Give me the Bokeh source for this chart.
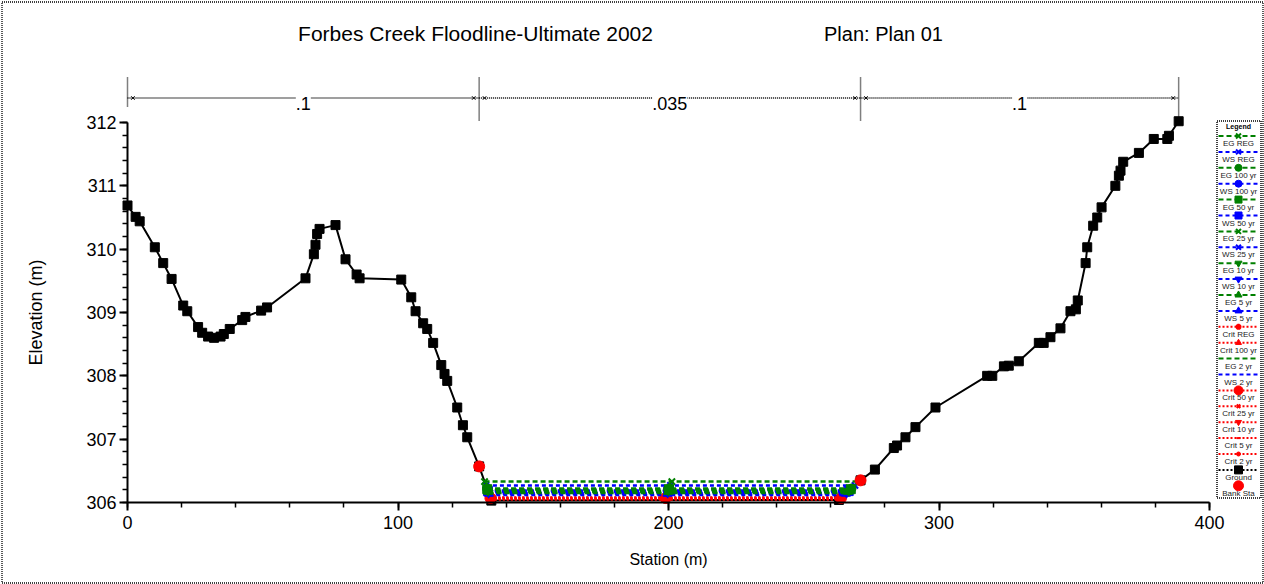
import numpy as np
from bokeh.plotting import figure
from bokeh.models import Range1d, SingleIntervalTicker, Label
from bokeh.core.properties import value
from bokeh.embed import file_html
from bokeh.resources import INLINE

# ---- cross-section data -------------------------------------------------
ground_station = [0.0, 3.0, 4.5, 10.1, 13.2, 16.3, 20.6, 22.1, 26.1, 27.6,
                  29.8, 32.0, 34.4, 35.6, 37.8, 42.4, 43.6, 49.4, 51.6, 65.8,
                  68.9, 69.5, 70.1, 71.0, 76.9, 80.6, 84.7, 85.8, 101.2, 104.9,
                  106.5, 109.3, 110.8, 113.0, 116.0, 117.2, 118.2, 121.9, 124.0, 125.6,
                  130.0, 134.5, 263.0, 271.0, 276.3, 283.3, 284.5, 287.6, 291.3, 298.7,
                  317.8, 319.7, 324.0, 325.8, 329.5, 336.9, 338.7, 341.2, 344.9, 348.6,
                  350.6, 351.3, 354.2, 354.8, 357.0, 358.5, 360.1, 365.2, 366.5, 367.1,
                  368.1, 373.9, 379.4, 384.4, 385.0, 388.6]
ground_elev = [310.69, 310.51, 310.44, 310.03, 309.78, 309.53, 309.11, 309.02, 308.77, 308.68,
               308.62, 308.60, 308.62, 308.66, 308.74, 308.88, 308.93, 309.03, 309.08, 309.54,
               309.92, 310.07, 310.24, 310.32, 310.38, 309.84, 309.60, 309.54, 309.52, 309.24,
               309.02, 308.83, 308.74, 308.52, 308.17, 308.03, 307.92, 307.50, 307.22, 307.03,
               306.57, 306.03, 306.04, 306.35, 306.52, 306.86, 306.90, 307.03, 307.19, 307.50,
               308.00, 308.00, 308.15, 308.16, 308.23, 308.52, 308.52, 308.61, 308.75, 309.02,
               309.05, 309.19, 309.78, 310.03, 310.37, 310.50, 310.66, 311.00, 311.16, 311.24,
               311.38, 311.52, 311.74, 311.74, 311.79, 312.02]
bank_station = [130.0, 271.0]

profiles = ["REG", "100 yr", "50 yr", "25 yr", "10 yr", "5 yr", "2 yr"]
eg_elev = [306.33, 306.22, 306.21, 306.20, 306.18, 306.17, 306.15]
ws_elev = [306.27, 306.19, 306.18, 306.17, 306.15, 306.14, 306.12]
crit_elev = [306.08, 306.07, 306.07, 306.06, 306.06, 306.05, 306.05]

n_breaks = [0.0, 130.0, 271.0, 388.6]
n_labels = [".1", ".035", ".1"]

title_left = "Forbes Creek Floodline-Ultimate 2002"
title_right = "Plan: Plan 01"

# ---- page geometry ------------------------------------------------------
W, H = 1264, 584
PX0, PY0 = 127, 502                      # pixel position of station 0 / elevation 306
XS = (1209 - 127) / 400.0                # px per metre of station
YS = (502 - 122) / 6.0                   # px per metre of elevation
Y0 = 306.0


def cx(px):
    return (px - PX0) / XS


def cy(py):
    return Y0 + (PY0 - py) / YS


FONT = "Liberation Sans"
GREEN, BLUE, RED = "#008000", "#0000ff", "#ff0000"
EG_DASH, WS_DASH, CRIT_DASH = "5 3", "4 3", "2 2"

# the plot area spans the whole page; axes sit at fixed data positions
p = figure(width=W, height=H, title=None,
           x_range=Range1d(cx(0), cx(W)), y_range=Range1d(cy(H), cy(0)),
           output_backend="svg", toolbar_location=None,
           min_border_left=0, min_border_right=0, min_border_top=0, min_border_bottom=0)
p.outline_line_color = None
p.grid.visible = False

for ax, ticker, bounds in ((p.xaxis, SingleIntervalTicker(interval=100, num_minor_ticks=5), (0, 400)),
                           (p.yaxis, SingleIntervalTicker(interval=1, num_minor_ticks=5), (306, 312))):
    ax.ticker = ticker
    ax.bounds = bounds
    ax.axis_line_width = 2
    ax.axis_line_color = "black"
    ax.major_tick_line_color = "black"
    ax.minor_tick_line_color = "black"
    ax.major_tick_line_width = 2
    ax.minor_tick_line_width = 1.5
    ax.major_tick_in = 0
    ax.major_tick_out = 8
    ax.minor_tick_in = 0
    ax.minor_tick_out = 5
    ax.major_label_text_font = FONT
    ax.major_label_text_font_size = "18px"
    ax.major_label_text_color = "black"
    ax.axis_label_text_font = FONT
    ax.axis_label_text_font_style = "normal"
    ax.axis_label_text_color = "black"

p.xaxis.fixed_location = 306
p.yaxis.fixed_location = 0
p.xaxis.axis_label = "Station (m)"
p.xaxis.axis_label_text_font_size = "16px"
p.xaxis.major_label_standoff = 5
p.xaxis.axis_label_standoff = 19
p.yaxis.axis_label = "Elevation (m)"
p.yaxis.axis_label_text_font_size = "18px"
p.yaxis.major_label_standoff = 3
p.yaxis.axis_label_standoff = 37

# ---- ground --------------------------------------------------------------
p.line(ground_station, ground_elev, line_color="black", line_width=2)
p.scatter(ground_station, ground_elev, marker="square", size=9,
          fill_color="black", line_color="black")

gx = np.array(ground_station)
gz = np.array(ground_elev)


def wet_edges(level):
    lo = int(np.argmin(gz))
    i = lo
    while gz[i - 1] <= level:
        i -= 1
    xl = np.interp(level, [gz[i], gz[i - 1]], [gx[i], gx[i - 1]])
    j = lo
    while gz[j + 1] <= level:
        j += 1
    xr = np.interp(level, [gz[j], gz[j + 1]], [gx[j], gx[j + 1]])
    return xl, xr


def draw_marker(xs, ys, marker, color, size):
    if marker is None:
        return
    hollow = marker in ("x", "asterisk", "dash")
    p.scatter(xs, ys, marker=marker, size=size, line_color=color,
              fill_color=None if hollow else color, line_width=2 if hollow else 1)


eg_markers = ["x", "circle", "square", "x", "inverted_triangle", "triangle", None]
crit_markers = ["asterisk", "triangle", "circle", "x", "inverted_triangle", "dash", "circle"]
crit_sizes = [8, 8, 11, 7, 8, 6, 5]

# critical depth, water surface and energy grade lines across the channel
for levels, color, dash, markers, sizes in (
        (crit_elev, RED, CRIT_DASH, crit_markers, crit_sizes),
        (ws_elev, BLUE, WS_DASH, eg_markers, [9] * 7),
        (eg_elev, GREEN, EG_DASH, eg_markers, [9] * 7)):
    for k in range(len(profiles) - 1, -1, -1):
        level = levels[k]
        xl, xr = wet_edges(level)
        p.line([xl, xr], [level, level], line_color=color, line_dash=dash, line_width=2.5)
        xm = 0.5 * (xl + xr)
        draw_marker([xl, xm, xr], [level] * 3, markers[k], color, sizes[k])

# bank stations
bank_elev = np.interp(bank_station, ground_station, ground_elev)
p.scatter(bank_station, bank_elev, marker="circle", size=11, fill_color=RED, line_color=RED)

# ---- Manning's n strip ---------------------------------------------------
NY = cy(97.5)
for b in n_breaks:
    p.line([b, b], [cy(77), cy(106 if b == n_breaks[0] else 120)],
           line_color="black", line_dash="1 1", line_width=1.5)
for k, lab in enumerate(n_labels):
    a, b = n_breaks[k], n_breaks[k + 1]
    p.line([a, b], [NY, NY], line_color="black", line_dash="1 1", line_width=1.3)
    p.scatter([a + 2.0, b - 2.0], [NY, NY], marker="x", size=5, line_color="black")
    p.add_layout(Label(x=0.5 * (a + b), y=NY, text=lab, text_align="center",
                       text_baseline="middle", text_font=FONT, text_font_size="18px",
                       text_color="black", background_fill_color="white",
                       y_offset=-5))

# ---- title ---------------------------------------------------------------
p.text([cx(475)], [cy(33)], text=[title_left], text_font=value(FONT),
       text_font_size="21px", text_baseline="middle", text_align="center", text_color="black")
p.text([cx(883)], [cy(33)], text=[title_right], text_font=value(FONT),
       text_font_size="20px", text_baseline="middle", text_align="center", text_color="black")

# ---- legend --------------------------------------------------------------
legend_items = []
for k in range(6):
    legend_items.append(("EG " + profiles[k], GREEN, EG_DASH, eg_markers[k], 7))
    legend_items.append(("WS " + profiles[k], BLUE, WS_DASH, eg_markers[k], 7))
legend_items.append(("Crit " + profiles[0], RED, CRIT_DASH, crit_markers[0], 6))
legend_items.append(("Crit " + profiles[1], RED, CRIT_DASH, crit_markers[1], 6))
legend_items.append(("EG " + profiles[6], GREEN, EG_DASH, None, 7))
legend_items.append(("WS " + profiles[6], BLUE, WS_DASH, None, 7))
for k in range(2, 7):
    legend_items.append(("Crit " + profiles[k], RED, CRIT_DASH, crit_markers[k], max(crit_sizes[k] - 2, 4)))
legend_items.append(("Ground", "black", "2 2", "square", 8))
legend_items.append(("Bank Sta", RED, None, "circle", 10))

p.quad(left=[cx(1216.5)], right=[cx(1260.5)], top=[cy(120.5)], bottom=[cy(497.5)],
       fill_color=None, line_color="black", line_dash="1 1", line_width=1.5)
p.text([cx(1238)], [cy(126)], text=["Legend"], text_font=value(FONT), text_font_size="7px",
       text_font_style="bold", text_align="center", text_baseline="middle", text_color="black")
for i, (lab, color, dash, marker, size) in enumerate(legend_items):
    ly = 135.5 + 15.9 * i
    if dash is not None:
        p.line([cx(1218), cx(1258)], [cy(ly), cy(ly)], line_color=color,
               line_dash=dash, line_width=2)
    draw_marker([cx(1238)], [cy(ly)], marker, color, size)
    p.text([cx(1238)], [cy(ly + 7.5)], text=[lab], text_font=value(FONT), text_font_size="8px",
           text_align="center", text_baseline="middle", text_color="#222222")

# dotted frame round the whole page
p.quad(left=[cx(1.5)], right=[cx(1262.5)], top=[cy(1.5)], bottom=[cy(582.5)],
       fill_color=None, line_color="black", line_dash="1 1", line_width=1.3)

open("out.html", "w").write(file_html(p, INLINE))
